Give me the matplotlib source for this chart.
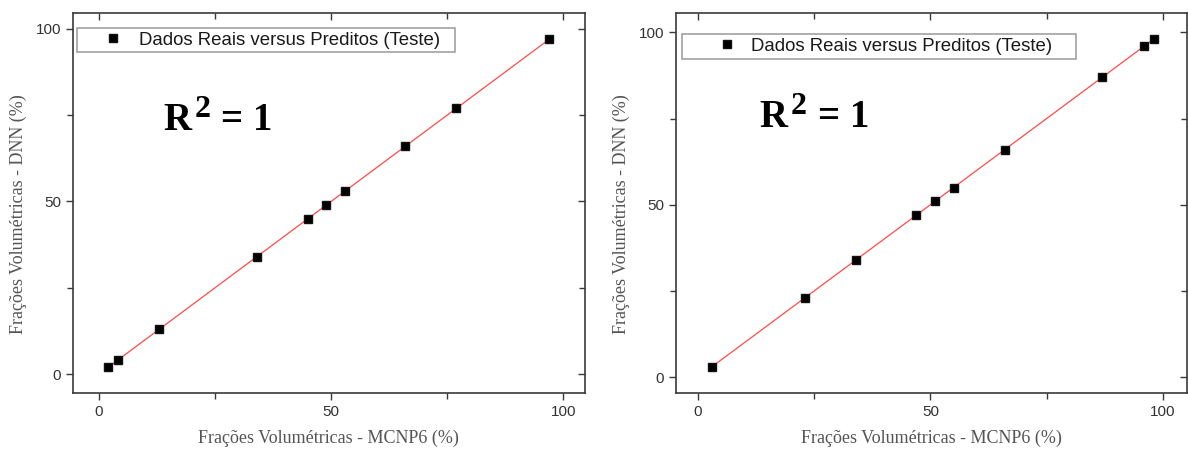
import numpy as np
import matplotlib
matplotlib.use('Agg')
import matplotlib.pyplot as plt
from matplotlib.ticker import MultipleLocator

# --- DATA ---
mcnp_a = [2, 4, 13, 34, 45, 49, 53, 66, 77, 97]
dnn_a = [2, 4, 13, 34, 45, 49, 53, 66, 77, 97]
mcnp_b = [3, 23, 34, 47, 51, 55, 66, 87, 96, 98]
dnn_b = [3, 23, 34, 47, 51, 55, 66, 87, 96, 98]

LEGEND_LABEL = 'Dados Reais versus Preditos (Teste)'
XLABEL = 'Frações Volumétricas - MCNP6 (%)'
YLABEL = 'Frações Volumétricas - DNN (%)'

FRAME = '#3a3a3a'
TXT = '#333333'
SERIF = 'Liberation Serif'
SANS = 'Liberation Sans'

fig = plt.figure(figsize=(11.88, 4.5), dpi=100)

panels = [
    # x, y, axes rect, xlim, ylim, legend box (x0, top, width), handlelength, textpad, R2 anchor
    (mcnp_a, dnn_a, [0.0612, 0.1273, 0.4312, 0.843], (-5.66, 104.7), (-5.4, 104.5),
     (0.0084, 0.962, 0.738), 3.45, -0.3, (13.8, 70.7)),
    (mcnp_b, dnn_b, [0.569, 0.1273, 0.4302, 0.843], (-4.7, 105.2), (-4.5, 105.5),
     (0.0117, 0.945, 0.771), 4.45, -0.95, (13.3, 72.5)),
]

for x, y, rect, xl, yl, lbox, hlen, hpad, r2 in panels:
    ax = fig.add_axes(rect)
    x = np.asarray(x, float)
    y = np.asarray(y, float)

    # linear fit through the test points
    k, b = np.polyfit(x, y, 1)
    xf = np.array([x.min(), x.max()])
    ax.plot(xf, k * xf + b, color='#ff4a4a', lw=0.9, zorder=2)
    ax.plot(x, y, 's', color='black', ms=6.2, mec='#111111', ls='none',
            label=LEGEND_LABEL, zorder=3)

    ax.set_xlim(*xl)
    ax.set_ylim(*yl)
    for a in (ax.xaxis, ax.yaxis):
        a.set_major_locator(MultipleLocator(50))
        a.set_minor_locator(MultipleLocator(25))

    for s in ax.spines.values():
        s.set_color(FRAME)
        s.set_linewidth(1.2)

    ax.tick_params(which='both', direction='out', color=FRAME, width=1.0,
                   labelsize=11, labelcolor=TXT, top=False, right=False)
    ax.tick_params(which='major', length=5)
    ax.tick_params(which='minor', length=4)
    for tl in ax.get_xticklabels() + ax.get_yticklabels():
        tl.set_fontfamily(SANS)

    # mirrored ticks on top/right point inwards
    top = ax.secondary_xaxis('top')
    right = ax.secondary_yaxis('right')
    for sec, a in ((top, top.xaxis), (right, right.yaxis)):
        a.set_major_locator(MultipleLocator(50))
        a.set_minor_locator(MultipleLocator(25))
        sec.tick_params(which='both', direction='in', color=FRAME, width=1.0,
                        labelleft=False, labelright=False, labeltop=False)
        sec.tick_params(which='major', length=5)
        sec.tick_params(which='minor', length=4)
        for s in sec.spines.values():
            s.set_visible(False)

    ax.set_xlabel(XLABEL, fontfamily=SERIF, fontsize=13, color='#555555')
    ax.set_ylabel(YLABEL, fontfamily=SERIF, fontsize=13, color='#555555')
    ax.xaxis.set_label_coords(0.5, -0.097)
    ax.yaxis.set_label_coords(-0.09, 0.47)

    lx, ltop, lw = lbox
    leg = ax.legend(loc='upper left', bbox_to_anchor=(lx, ltop - 0.1, lw, 0.1),
                    mode='expand', borderaxespad=0,
                    fancybox=False, framealpha=1, edgecolor='#9a9a9a',
                    borderpad=0.2, handlelength=hlen, handletextpad=hpad,
                    prop={'family': SANS, 'size': 13.4})
    leg.get_frame().set_linewidth(1.1)
    for t in leg.get_texts():
        t.set_color('#1a1a1a')

    # R^2 = 1, built from three pieces so the superscript can be large
    kw = dict(xycoords='data', textcoords='offset points', color='black',
              fontfamily=SERIF, fontweight='bold', ha='left', va='baseline')
    ax.annotate('R', r2, xytext=(0, 0), fontsize=28, **kw)
    ax.annotate('2', r2, xytext=(22.5, 9.4), fontsize=23, **kw)
    ax.annotate('= 1', r2, xytext=(42, 0), fontsize=28, **kw)

fig.savefig('out.png', dpi=100)
